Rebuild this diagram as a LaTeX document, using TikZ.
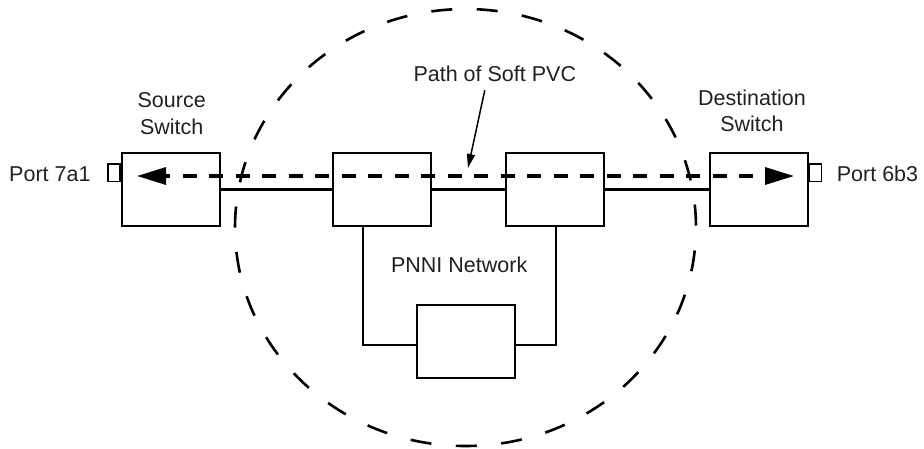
\documentclass[tikz,border=0pt]{standalone}
\usepackage{fontspec}
\setmainfont{Liberation Sans}
\usetikzlibrary{arrows.meta}
\definecolor{ink}{RGB}{35,31,32}
\begin{document}
\begin{tikzpicture}[x=1pt,y=-1pt,
  box/.style={draw=black, line width=2pt, minimum width=98pt, minimum height=73pt,
    inner sep=0pt, outer sep=0pt},
  portbox/.style={draw=black, line width=1.5pt, minimum width=12pt, minimum height=17.5pt,
    inner sep=0pt, outer sep=0pt},
  lbl/.style={text=ink, font=\fontsize{21.5}{26.3}\selectfont, inner sep=0pt, align=center},
  link/.style={draw=black, line width=2.2pt},
  ring/.style={draw=black, line width=2.6pt, dash pattern=on 21pt off 24.5pt, dash phase=43.5pt},
  pvc/.style={draw=black, line width=3.3pt, dash pattern=on 14pt off 12.5pt, dash phase=9pt,
    {Triangle[length=29pt,width=17pt]}-{Triangle[length=29pt,width=17pt]}},
  callout/.style={draw=black, line width=1.5pt, -{Triangle[length=14pt,width=8pt]}}
]
\useasboundingbox (0,0) rectangle (924,448);

% boundary of the PNNI network
\draw[ring] (465.5,227.5) ellipse [x radius=230.5pt, y radius=218.5pt];

% switches
\node[box] (src) at (171,189.5) {};
\node[box] (r1)  at (381.5,189.5) {};
\node[box] (r2)  at (555,189.5) {};
\node[box] (dst) at (758.5,189.5) {};
\node[box] (r3)  at (466,341.3) {};

% ports
\node[portbox] (p7) at (114,172.5) {};
\node[portbox] (p6) at (815.5,172.5) {};

% physical links
\draw[link] (src.east) -- (r1.west);
\draw[link] (r1.east) -- (r2.west);
\draw[link] (r2.east) -- (dst.west);
\draw[link] ([xshift=-18.5pt]r1.south) |- ([yshift=-3.7pt]r3.west);
\draw[link] ([xshift=1pt]r2.south) |- ([yshift=-3.7pt]r3.east);

% soft PVC path
\coordinate (pvcL) at (137,176);
\coordinate (pvcR) at (794,176);
\draw[pvc] (pvcL) -- (pvcR);

% labels (two-line labels are placed by the baseline of their last line)
\node[lbl, anchor=base] (srclbl) at (171.7,134) {Source\\Switch};
\node[lbl, anchor=base] (dstlbl) at (752,131.7) {Destination\\Switch};
\node[lbl, anchor=base east] (p7lbl) at (90.7,181.7) {Port 7a1};
\node[lbl, anchor=base west] (p6lbl) at (836.7,181.7) {Port 6b3};
\node[lbl, anchor=base] (pathlbl) at (494.8,81.7) {Path of Soft PVC};
\node[lbl, anchor=base] (netlbl) at (459.2,272.7) {PNNI Network};

\coordinate (pvcmark) at (468,168);
\draw[callout] ([xshift=-10pt,yshift=-8pt]pathlbl.south) -- (pvcmark);
\end{tikzpicture}
\end{document}
